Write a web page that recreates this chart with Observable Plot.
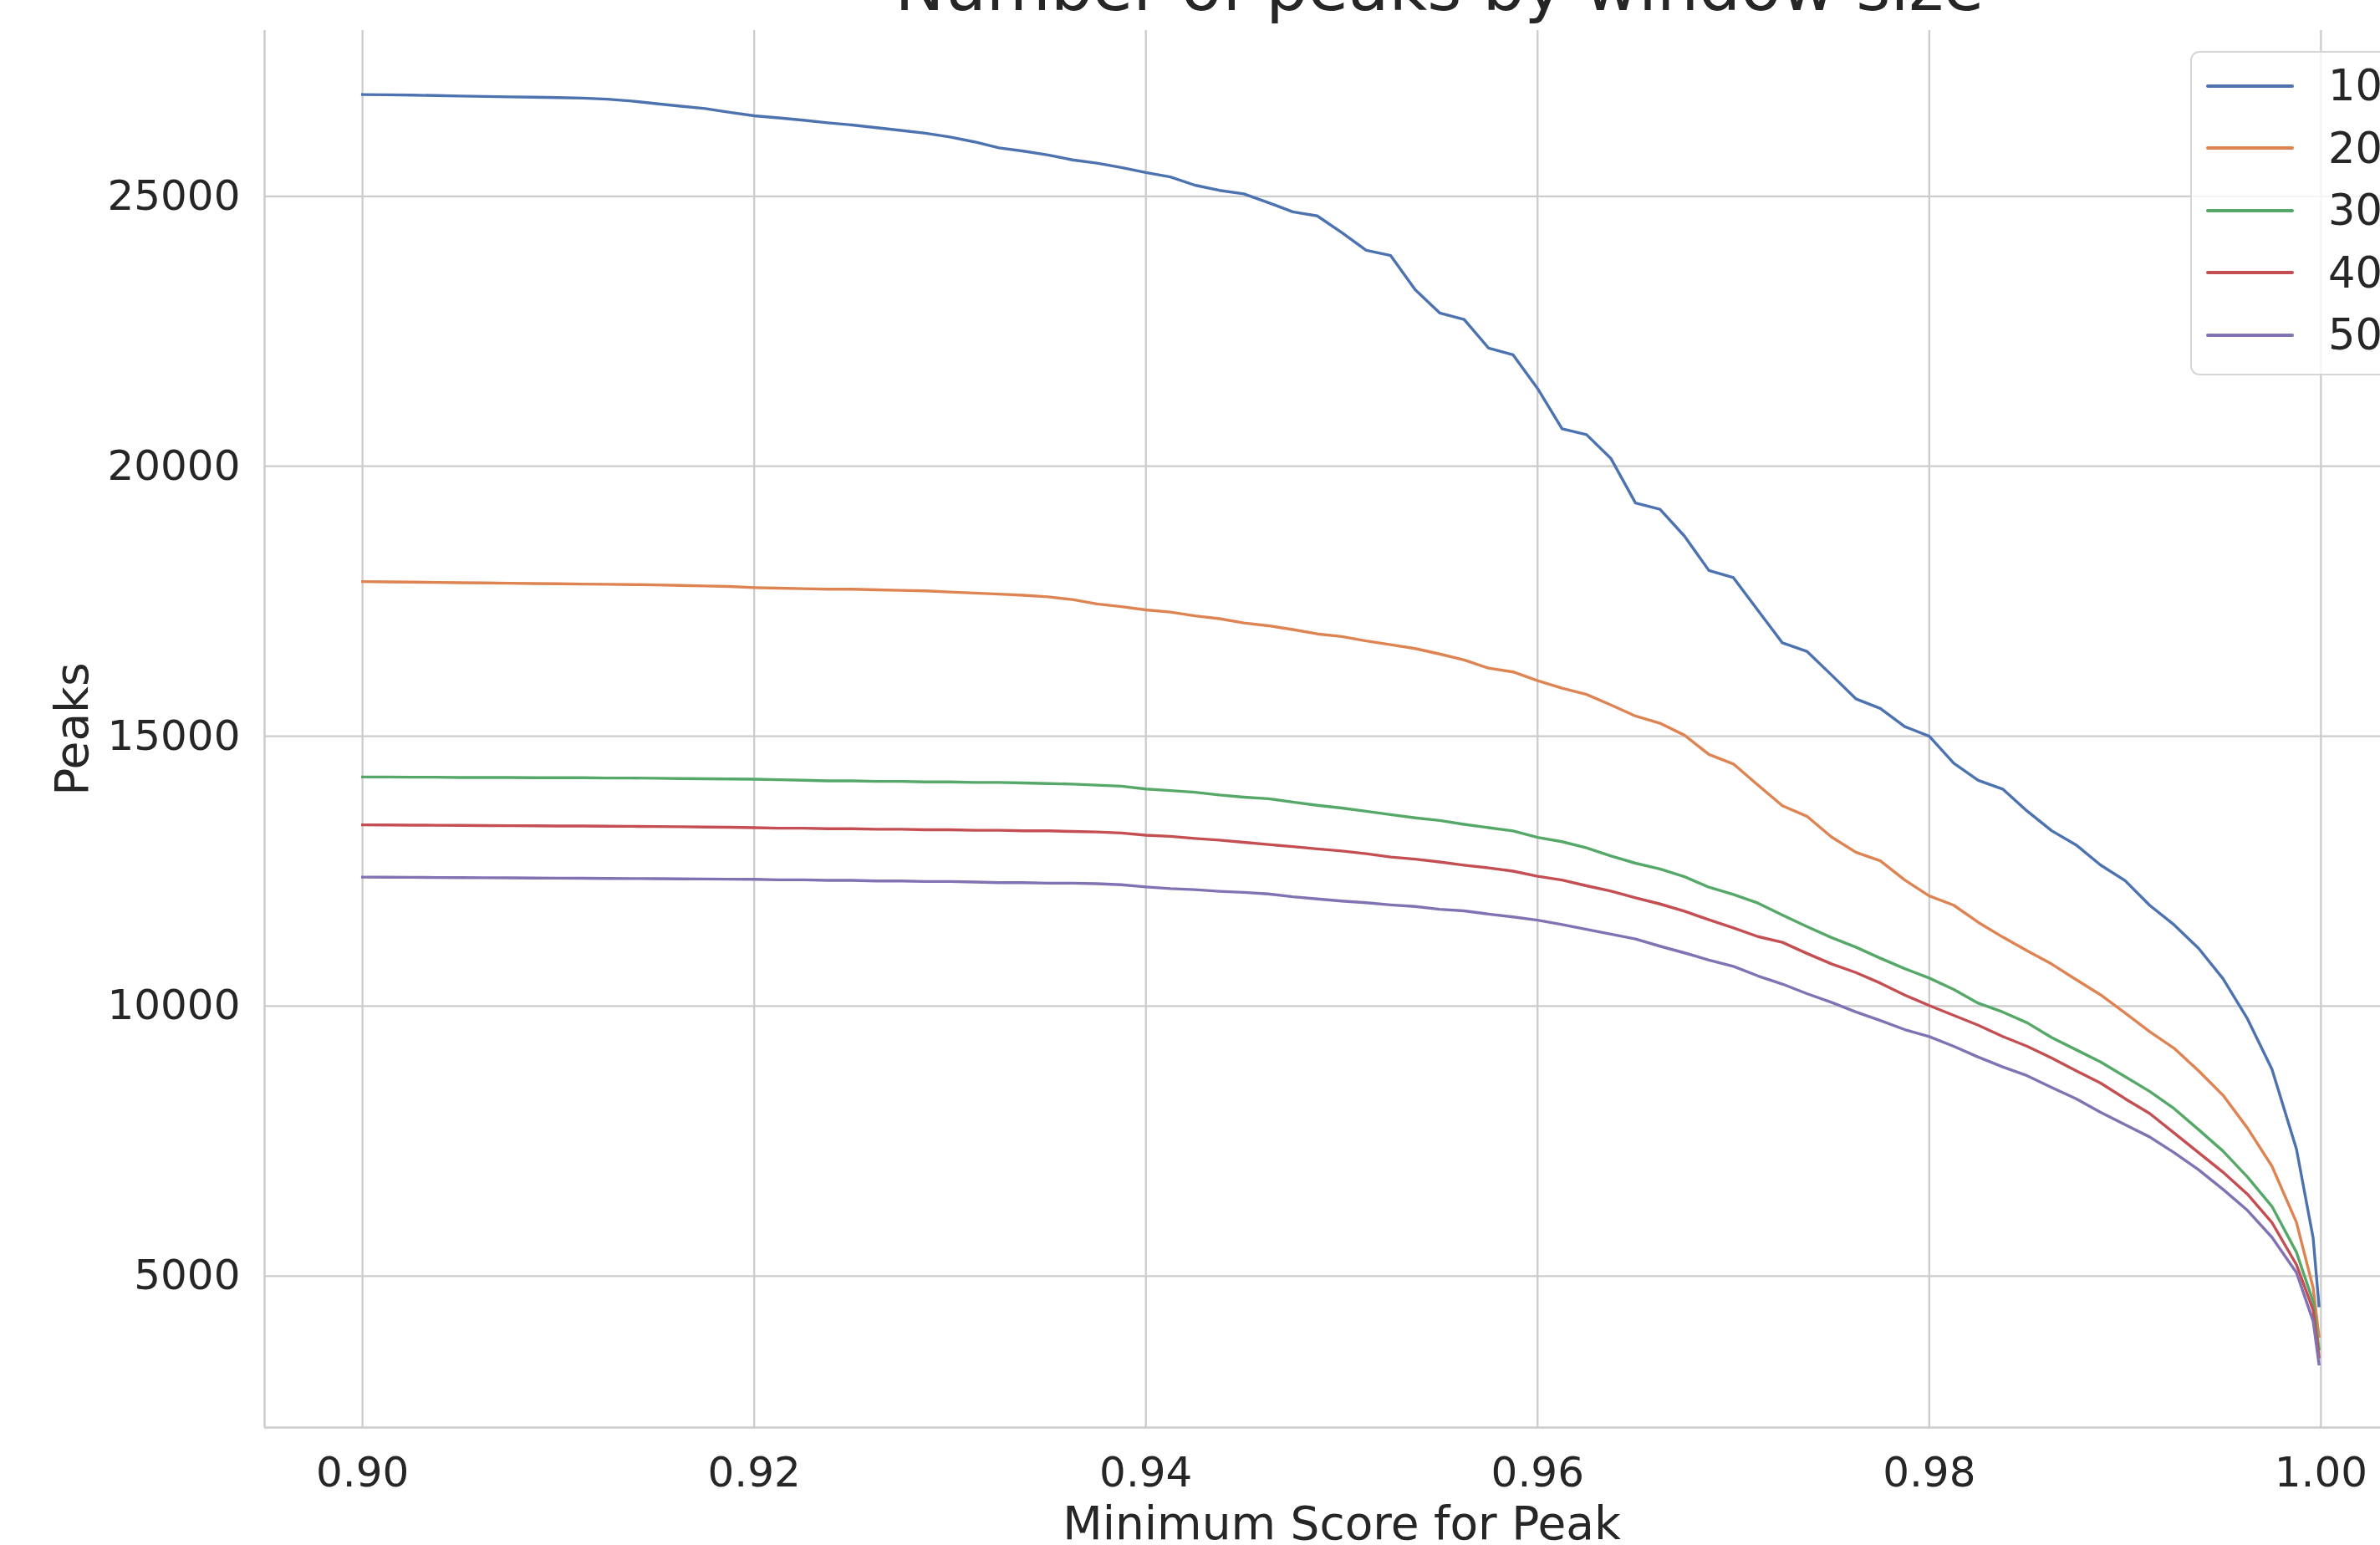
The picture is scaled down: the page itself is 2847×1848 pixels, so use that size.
<!DOCTYPE html>
<html>
<head>
<meta charset="utf-8">
<script src="https://cdn.jsdelivr.net/npm/d3@7"></script>
<script src="https://cdn.jsdelivr.net/npm/@observablehq/plot@0.6"></script>
<style>
  html, body { margin: 0; padding: 0; background: #ffffff; overflow: hidden; }
  #fig { position: relative; width: 2847px; height: 1848px; overflow: hidden; background: #ffffff; font-family: "DejaVu Sans", sans-serif; color: #262626; }
  #title { position: absolute; left: 1722px; top: -54px; transform: translateX(-50%); font-size: 79px; line-height: 1; white-space: nowrap; color: #262626; }
  #legend { position: absolute; left: 2620px; top: 61px; width: 250px; height: 388px; box-sizing: border-box; border: 2.3px solid #d6d6d6; border-radius: 11px; background: rgba(255,255,255,0.8); padding-top: 2.5px; }
  .row { height: 74.5px; display: flex; align-items: center; }
  .sw { margin-left: 17px; width: 105px; height: 4px; border-radius: 2px; }
  .lab { margin-left: 41px; font-size: 51px; line-height: 1; color: #262626; }
  #chart { position: absolute; left: 0; top: 0; }
</style>
</head>
<body>
<div id="fig">
  <div id="chart"></div>
  <div id="title"></div>
  <div id="legend"></div>
</div>
<script>
const titleText = "Number of peaks by window size";
const xLabel = "Minimum Score for Peak";
const yLabel = "Peaks";
const xTicks = [0.90, 0.92, 0.94, 0.96, 0.98, 1.00];
const yTicks = [5000, 10000, 15000, 20000, 25000];
const xDomain = [0.895, 1.005];
const yDomain = [2194, 28071];

const seriesNames = ["10", "20", "30", "40", "50"];
const seriesColors = ["#4c72b0", "#dd8452", "#55a868", "#c44e52", "#8172b3"];

const scores = [
  0.9, 0.90125, 0.9025, 0.90375, 0.905, 0.90625, 0.9075, 0.90875, 0.91, 0.91125,
  0.9125, 0.91375, 0.915, 0.91625, 0.9175, 0.91875, 0.92, 0.92125, 0.9225, 0.92375,
  0.925, 0.92625, 0.9275, 0.92875, 0.93, 0.93125, 0.9325, 0.93375, 0.935, 0.93625,
  0.9375, 0.93875, 0.94, 0.94125, 0.9425, 0.94375, 0.945, 0.94625, 0.9475, 0.94875,
  0.95, 0.95125, 0.9525, 0.95375, 0.955, 0.95625, 0.9575, 0.95875, 0.96, 0.96125,
  0.9625, 0.96375, 0.965, 0.96625, 0.9675, 0.96875, 0.97, 0.97125, 0.9725, 0.97375,
  0.975, 0.97625, 0.9775, 0.97875, 0.98, 0.98125, 0.9825, 0.98375, 0.985, 0.98625,
  0.9875, 0.98875, 0.99, 0.99125, 0.9925, 0.99375, 0.995, 0.99625, 0.9975, 0.99875,
  0.9996, 0.9999
];

const peaks10 = [
  26885, 26880, 26874, 26866, 26858, 26850, 26842, 26835, 26828, 26818,
  26800, 26765, 26715, 26670, 26625, 26555, 26492, 26452, 26411, 26361,
  26321, 26270, 26220, 26169, 26099, 26008, 25897, 25837, 25766, 25675,
  25615, 25534, 25440, 25360, 25206, 25110, 25045, 24884, 24713, 24637,
  24329, 24001, 23902, 23270, 22840, 22720, 22187, 22063, 21440, 20694,
  20585, 20141, 19320, 19204, 18706, 18069, 17936, 17330, 16729, 16572,
  16137, 15693, 15515, 15178, 15000, 14500, 14183, 14020, 13612, 13249,
  12985, 12613, 12323, 11869, 11506, 11071, 10508, 9764, 8830, 7350,
  5710, 4450
];
const peaks20 = [
  17863, 17858, 17853, 17848, 17843, 17838, 17833, 17828, 17823, 17818,
  17813, 17808, 17802, 17792, 17782, 17772, 17752, 17742, 17732, 17722,
  17722, 17712, 17702, 17692, 17671, 17651, 17631, 17611, 17581, 17530,
  17450, 17399, 17340, 17298, 17228, 17177, 17097, 17046, 16976, 16895,
  16845, 16764, 16694, 16623, 16522, 16411, 16260, 16190, 16030, 15888,
  15773, 15577, 15373, 15240, 15018, 14662, 14485, 14094, 13712, 13517,
  13135, 12851, 12691, 12336, 12040, 11869, 11552, 11279, 11025, 10780,
  10490, 10209, 9873, 9528, 9220, 8802, 8348, 7740, 7033, 5993,
  4784, 3880
];
const peaks30 = [
  14244, 14244, 14240, 14240, 14235, 14235, 14235, 14230, 14230, 14230,
  14225, 14225, 14220, 14215, 14210, 14208, 14204, 14194, 14184, 14173,
  14173, 14163, 14163, 14153, 14153, 14143, 14143, 14133, 14123, 14113,
  14093, 14073, 14022, 13992, 13962, 13911, 13871, 13841, 13780, 13720,
  13669, 13609, 13548, 13488, 13438, 13367, 13306, 13246, 13125, 13046,
  12931, 12780, 12647, 12540, 12398, 12202, 12069, 11909, 11687, 11474,
  11270, 11092, 10888, 10693, 10520, 10308, 10054, 9891, 9691, 9419,
  9192, 8966, 8693, 8421, 8103, 7713, 7314, 6833, 6289, 5440,
  4526, 3650
];
const peaks40 = [
  13357, 13355, 13352, 13350, 13347, 13345, 13342, 13340, 13337, 13335,
  13332, 13330, 13327, 13322, 13317, 13312, 13306, 13296, 13296, 13286,
  13286, 13276, 13276, 13266, 13266, 13256, 13256, 13246, 13246, 13236,
  13226, 13206, 13165, 13145, 13105, 13075, 13034, 12994, 12954, 12913,
  12873, 12823, 12762, 12722, 12671, 12611, 12560, 12500, 12405, 12336,
  12229, 12131, 12007, 11892, 11758, 11599, 11448, 11288, 11181, 10977,
  10782, 10622, 10426, 10204, 10010, 9828, 9646, 9437, 9256, 9038,
  8802, 8575, 8285, 8013, 7650, 7287, 6924, 6515, 5989, 5210,
  4372, 3503
];
const peaks50 = [
  12389, 12387, 12385, 12382, 12380, 12378, 12375, 12373, 12370, 12368,
  12365, 12363, 12360, 12357, 12354, 12351, 12349, 12339, 12339, 12329,
  12329, 12319, 12319, 12309, 12309, 12298, 12288, 12288, 12278, 12278,
  12268, 12248, 12208, 12177, 12157, 12127, 12107, 12077, 12026, 11986,
  11946, 11915, 11875, 11845, 11794, 11764, 11704, 11653, 11592, 11510,
  11421, 11332, 11243, 11110, 10986, 10853, 10737, 10560, 10409, 10231,
  10071, 9893, 9734, 9565, 9435, 9256, 9056, 8875, 8711, 8494,
  8285, 8031, 7804, 7577, 7287, 6969, 6606, 6216, 5717, 5064,
  4167, 3370
];

const seriesValues = [peaks10, peaks20, peaks30, peaks40, peaks50];
const rows = [];
seriesNames.forEach((name, i) => {
  seriesValues[i].forEach((v, j) => rows.push({window: name, score: scores[j], peaks: v}));
});

const gridStyle = {stroke: "#cccccc", strokeOpacity: 1, strokeWidth: 2.3};

const chart = Plot.plot({
  width: 2893,
  height: 1848,
  marginLeft: 316,
  marginRight: 0,
  marginTop: 36,
  marginBottom: 141,
  style: {fontFamily: "DejaVu Sans, sans-serif", fontSize: "50px", color: "#262626", background: "transparent", maxWidth: "none", overflow: "visible"},
  x: {domain: xDomain},
  y: {domain: yDomain},
  color: {domain: seriesNames, range: seriesColors},
  marks: [
    Plot.gridX({ticks: xTicks, ...gridStyle}),
    Plot.gridY({ticks: yTicks, ...gridStyle}),
    Plot.axisX({ticks: xTicks, tickSize: 0, tickPadding: 35, tickFormat: d3.format(".2f"), label: null, fontSize: 50}),
    Plot.axisY({ticks: yTicks, tickSize: 0, tickPadding: 29, tickFormat: d => String(d), label: null, fontSize: 50}),
    Plot.line(rows, {x: "score", y: "peaks", stroke: "window", z: "window", strokeWidth: 3.4, strokeLinejoin: "round", strokeLinecap: "square"}),
    Plot.ruleX([xDomain[0]], {stroke: "#cccccc", strokeWidth: 2.5}),
    Plot.ruleY([yDomain[0]], {stroke: "#cccccc", strokeWidth: 2.5}),
    Plot.text([xLabel], {text: d => d, frameAnchor: "bottom", lineAnchor: "bottom", dy: 133, fontSize: 55, fill: "#262626"}),
    Plot.text([yLabel], {text: d => d, frameAnchor: "left", textAnchor: "middle", lineAnchor: "bottom", rotate: -90, dx: -212, fontSize: 55, fill: "#262626"})
  ]
});
document.getElementById("chart").appendChild(chart);
document.getElementById("title").textContent = titleText;

const legend = document.getElementById("legend");
seriesNames.forEach((name, i) => {
  const row = document.createElement("div");
  row.className = "row";
  const sw = document.createElement("div");
  sw.className = "sw";
  sw.style.background = seriesColors[i];
  const lab = document.createElement("div");
  lab.className = "lab";
  lab.textContent = name;
  row.appendChild(sw);
  row.appendChild(lab);
  legend.appendChild(row);
});
</script>
</body>
</html>
